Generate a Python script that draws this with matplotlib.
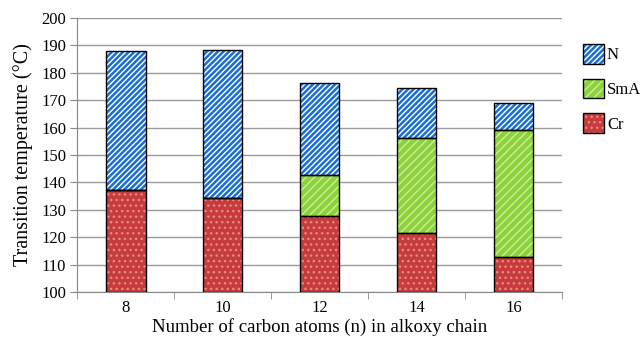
import numpy as np
import matplotlib.pyplot as plt
from matplotlib.patches import Patch

# values
carbons = ['8', '10', '12', '14', '16']
cr_top = [137.2, 134.4, 127.8, 121.5, 112.6]
sma_top = [137.2, 134.4, 142.8, 156.1, 159.0]
n_top = [188.0, 188.3, 176.3, 174.6, 169.0]
y_min = 100

phases = ['N', 'SmA', 'Cr']
colors = {'N': '#1b6fd4', 'SmA': '#8dd23e', 'Cr': '#c83b3b'}
hatch_colors = {'N': '#ffffff', 'SmA': '#c9ef95', 'Cr': '#e58a8a'}
hatches = {'N': '//////', 'SmA': '////', 'Cr': '...'}

plt.rcParams['font.family'] = ['Liberation Serif', 'DejaVu Serif']
plt.rcParams['hatch.linewidth'] = 1.0

fig = plt.figure(figsize=(6.43, 3.38), dpi=100)
ax = fig.add_axes([0.12, 0.136, 0.754, 0.811])

x = np.arange(len(carbons))
w = 0.41

segments = {
    'Cr': (np.full(len(carbons), y_min), np.array(cr_top)),
    'SmA': (np.array(cr_top), np.array(sma_top)),
    'N': (np.array(sma_top), np.array(n_top)),
}

for name in ['Cr', 'SmA', 'N']:
    lo, hi = segments[name]
    # fill + light hatch, then black outline on top
    ax.bar(x, hi - lo, w, bottom=lo, color=colors[name], edgecolor=hatch_colors[name],
           hatch=hatches[name], linewidth=0, zorder=3)
    ax.bar(x, hi - lo, w, bottom=lo, facecolor='none', edgecolor='black',
           linewidth=1.0, zorder=4)

ax.set_ylim(100, 200)
ax.set_xlim(-0.5, len(carbons) - 0.5)
ax.set_yticks(np.arange(100, 201, 10))
ax.set_xticks(x)
ax.set_xticklabels(carbons)
ax.set_xticks(np.arange(-0.5, len(carbons), 1), minor=True)
ax.tick_params(axis='x', which='major', length=0, pad=6, labelsize=12)
ax.tick_params(axis='x', which='minor', length=5, color='#888888', direction='out')
ax.tick_params(axis='y', length=5, color='#888888', direction='out', labelsize=12, pad=3)

ax.yaxis.grid(True, color='#9a9a9a', linewidth=1.0, zorder=0)
ax.set_axisbelow(True)
for s in ['top', 'right']:
    ax.spines[s].set_visible(False)
ax.spines['left'].set_color('#888888')
ax.spines['bottom'].set_color('#888888')

ax.set_xlabel('Number of carbon atoms (n) in alkoxy chain', fontsize=13.5, labelpad=1)
ax.set_ylabel('Transition temperature (°C)', fontsize=14.5, labelpad=6)

handles = []
for p in phases:
    fill = Patch(facecolor=colors[p], edgecolor=hatch_colors[p], hatch=hatches[p], linewidth=0)
    edge = Patch(facecolor='none', edgecolor='black', linewidth=1.0)
    handles.append((fill, edge))
leg = fig.legend(handles, phases, loc='upper left', bbox_to_anchor=(0.896, 0.89),
                 frameon=False, fontsize=12, labelspacing=0.9, handlelength=1.25,
                 handleheight=1.45, handletextpad=0.2, borderaxespad=0)

fig.savefig('out.png', dpi=100)
